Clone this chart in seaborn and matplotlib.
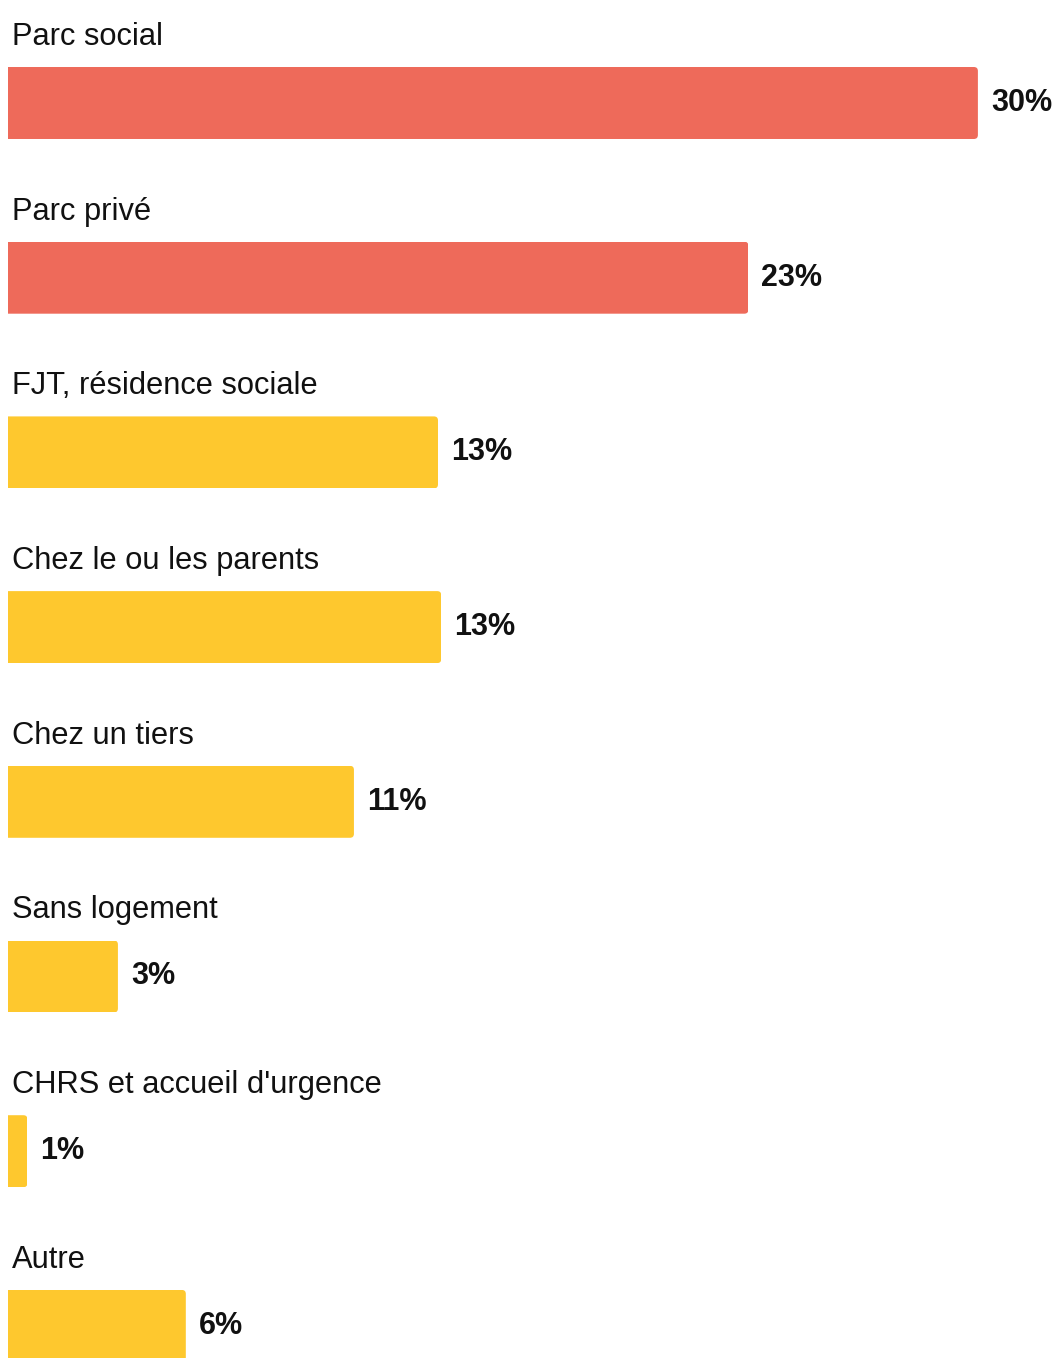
import matplotlib
matplotlib.use("Agg")
import matplotlib.pyplot as plt
from matplotlib.patches import FancyBboxPatch
import seaborn as sns
import pandas as pd

categories = ["Parc social", "Parc privé", "FJT, résidence sociale", "Chez le ou les parents",
              "Chez un tiers", "Sans logement", "CHRS et accueil d'urgence", "Autre"]
values = [30.0, 22.9, 13.3, 13.4, 10.7, 3.4, 0.6, 5.5]
value_labels = ["30%", "23%", "13%", "13%", "11%", "3%", "1%", "6%"]
groups = ["logement", "logement", "autre", "autre", "autre", "autre", "autre", "autre"]
palette = {"logement": "#EE6A5A", "autre": "#FEC82E"}

df = pd.DataFrame({"cat": categories, "val": values, "grp": groups})

sns.set_theme(style="white")
plt.rcParams['font.family'] = ['Liberation Sans', 'DejaVu Sans']

W, H = 1055, 1358
fig = plt.figure(figsize=(W / 100, H / 100), dpi=100)
ax = fig.add_axes([0, 0, 1, 1])

sns.barplot(data=df, y="cat", x="val", hue="grp", palette=palette, orient="h",
            width=0.412, dodge=False, legend=False, ax=ax, saturation=1,
            linewidth=0, edgecolor="none")

px_per_unit_y = 174.7
px_per_unit_x = 32.33
x0_px = 8
y0_px = 103
ax.set_xlim(-x0_px / px_per_unit_x, (W - x0_px) / px_per_unit_x)
ax.set_ylim((H - y0_px) / px_per_unit_y, -y0_px / px_per_unit_y)
ax.axis("off")

# rounded right corners via clipping (left corners stay square)
r_x = 4 / px_per_unit_x
aspect = (1 / px_per_unit_y) / (1 / px_per_unit_x)
for p in list(ax.patches):
    x, y, w, h = p.get_x(), p.get_y(), p.get_width(), p.get_height()
    if w <= 0:
        continue
    p.set_linewidth(0)
    p.set_edgecolor("none")
    rs = min(r_x, w / 2)
    clip = FancyBboxPatch((x - rs, y), w + rs, h,
                          boxstyle=f"round,pad=0,rounding_size={rs}",
                          mutation_aspect=aspect, transform=ax.transData)
    p.set_clip_path(clip)

for i, (cat, v, lab) in enumerate(zip(categories, values, value_labels)):
    ax.text((12 - x0_px) / px_per_unit_x, i - 66 / px_per_unit_y, cat,
            fontsize=22.2, va="center", ha="left", color="#111111")
    ax.text(v + 13 / px_per_unit_x, i, lab, fontsize=22, fontweight="bold",
            va="center", ha="left", color="#111111")

fig.savefig("out.png", dpi=100)
